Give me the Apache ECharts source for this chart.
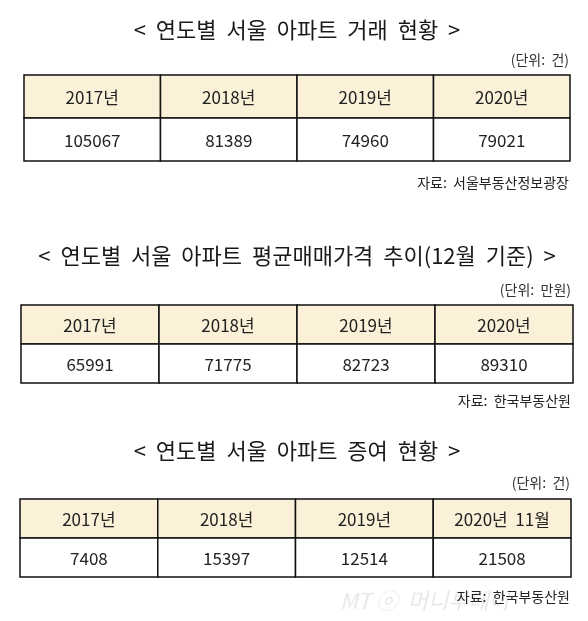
<!DOCTYPE html>
<html>
<head>
<meta charset="utf-8">
<script src="https://cdn.jsdelivr.net/npm/echarts@6/dist/echarts.min.js"></script>
<style>
  html, body { margin: 0; padding: 0; background: #fff; }
  #main { width: 588px; height: 621px; }
</style>
</head>
<body>
<div id="main"></div>
<script>
// data
var years = ['2017년', '2018년', '2019년', '2020년'];
var years3 = ['2017년', '2018년', '2019년', '2020년  11월'];
var trades = [105067, 81389, 74960, 79021];   // 거래 (건)
var prices = [65991, 71775, 82723, 89310];    // 평균매매가격 (만원)
var gifts = [7408, 15397, 12514, 21508];      // 증여 (건)
var rows = ['head', 'value'];

var titles = [
  '<  연도별  서울  아파트  거래  현황  >',
  '<  연도별  서울  아파트  평균매매가격  추이(12월  기준)  >',
  '<  연도별  서울  아파트  증여  현황  >'
];
var units = ['(단위:  건)', '(단위:  만원)', '(단위:  건)'];
var sources = ['자료:  서울부동산정보광장', '자료:  한국부동산원', '자료:  한국부동산원'];

var font = '"Noto Sans CJK KR", "Noto Sans", sans-serif';
var headColor = '#FAF1D8';
var lineColor = '#111';
var textColor = '#222';

var grids = [
  { left: 24, right: 18, top: 75, height: 86 },
  { left: 21, right: 15, top: 305, height: 78 },
  { left: 20, right: 17, top: 499, height: 78 }
];

function cells(heads, vals) {
  var out = [];
  heads.forEach(function (h, i) { out.push([i, 0, h]); });
  vals.forEach(function (v, i) { out.push([i, 1, String(v)]); });
  return out;
}

function makeRender(d) {
  return function (params, api) {
    var item = d[params.dataIndex];
    var c = api.coord([item[0], item[1]]);
    var s = api.size([1, 1]);
    var isHead = item[1] === 0;
    return {
      type: 'group',
      children: [{
        type: 'rect',
        shape: { x: c[0] - s[0] / 2, y: c[1] - s[1] / 2, width: s[0], height: s[1] },
        style: { fill: isHead ? headColor : '#fff', stroke: lineColor, lineWidth: 1.5 }
      }, {
        type: 'text',
        style: {
          text: item[2],
          x: c[0], y: c[1] + 1,
          align: 'center', verticalAlign: 'middle',
          font: '17px ' + font,
          fill: textColor
        }
      }]
    };
  };
}

var tableData = [cells(years, trades), cells(years, prices), cells(years3, gifts)];

var xAxes = [], yAxes = [], series = [];
tableData.forEach(function (d, k) {
  xAxes.push({ type: 'category', gridIndex: k, data: k === 2 ? years3 : years, show: false });
  yAxes.push({ type: 'category', gridIndex: k, data: rows, inverse: true, show: false });
  series.push({
    type: 'custom', xAxisIndex: k, yAxisIndex: k,
    renderItem: makeRender(d),
    data: d.map(function (r) { return [r[0], r[1]]; }),
    silent: true, animation: false
  });
});

var titleY = [30, 256, 451];
var unitY = [60, 290, 483];
var sourceY = [183, 401, 597];
var rightX = [569, 571, 570];

var graphic = [];
titles.forEach(function (t, k) {
  graphic.push({ type: 'text', x: 297, y: titleY[k],
    style: { text: t, align: 'center', verticalAlign: 'middle', font: '22px ' + font, fill: '#1a1a1a' } });
  graphic.push({ type: 'text', x: rightX[k], y: unitY[k],
    style: { text: units[k], align: 'right', verticalAlign: 'middle', font: '14px ' + font, fill: '#333' } });
  graphic.push({ type: 'text', x: rightX[k], y: sourceY[k],
    style: { text: sources[k], align: 'right', verticalAlign: 'middle', font: '14px ' + font, fill: '#222' } });
});
// faint watermark
graphic.push({ type: 'text', x: 340, y: 601, z: -1,
  style: { text: 'MT ⓞ  머니투데이', align: 'left', verticalAlign: 'middle',
    font: 'italic 22px ' + font, fill: 'rgba(205,205,205,0.45)' } });

var option = {
  backgroundColor: '#fff',
  animation: false,
  grid: grids,
  xAxis: xAxes,
  yAxis: yAxes,
  series: series,
  graphic: graphic
};

var myChart = echarts.init(document.getElementById('main'));
myChart.setOption(option);
</script>
</body>
</html>
